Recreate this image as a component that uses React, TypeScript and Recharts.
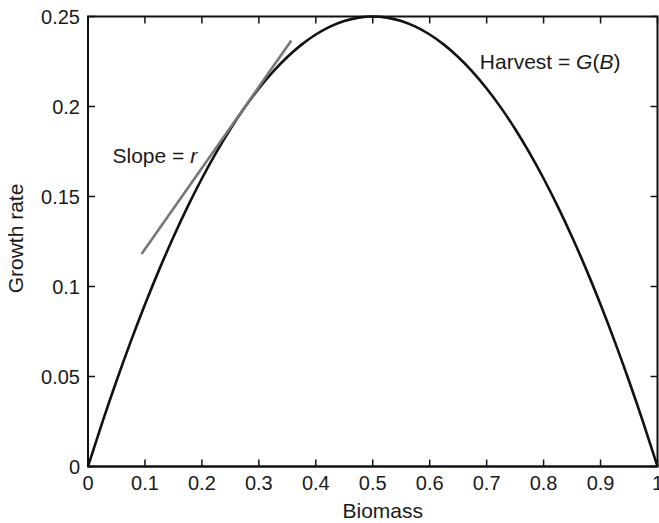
import React from "react";
import { LineChart, Line, XAxis, YAxis, Label, ReferenceDot, ReferenceArea } from "recharts";

// logistic growth curve, biomass vs growth rate
const biomass = [
  0, 0.025, 0.05, 0.075, 0.1, 0.125, 0.15, 0.175, 0.2, 0.225, 0.25, 0.275, 0.3, 0.325, 0.35,
  0.375, 0.4, 0.425, 0.45, 0.475, 0.5, 0.525, 0.55, 0.575, 0.6, 0.625, 0.65, 0.675, 0.7,
  0.725, 0.75, 0.775, 0.8, 0.825, 0.85, 0.875, 0.9, 0.925, 0.95, 0.975, 1,
];
const growthRate = [
  0, 0.024375, 0.0475, 0.069375, 0.09, 0.109375, 0.1275, 0.144375, 0.16, 0.174375, 0.1875,
  0.199375, 0.21, 0.219375, 0.2275, 0.234375, 0.24, 0.244375, 0.2475, 0.249375, 0.25,
  0.249375, 0.2475, 0.244375, 0.24, 0.234375, 0.2275, 0.219375, 0.21, 0.199375, 0.1875,
  0.174375, 0.16, 0.144375, 0.1275, 0.109375, 0.09, 0.069375, 0.0475, 0.024375, 0,
];

// tangent segment ends
const tangentBiomass = [0.094, 0.357];
const tangentRate = [0.118, 0.2366];

const xTicks = [0, 0.1, 0.2, 0.3, 0.4, 0.5, 0.6, 0.7, 0.8, 0.9, 1];
const yTicks = [0, 0.05, 0.1, 0.15, 0.2, 0.25];

const curveData = biomass.map((b, i) => ({ b, g: growthRate[i] }));
const tangentData = tangentBiomass.map((b, i) => ({ b, g: tangentRate[i] }));

const FONT = "'Liberation Sans', Arial, Helvetica, sans-serif";
const INK = "#111";
const TEXT = "#1a1a1a";
const TICK_LEN = 7;

// plot box edges, used for the mirrored inward ticks on top and right
const PLOT_TOP = 16.5;
const PLOT_RIGHT = 657.5;

const BottomTick = (props: any) => {
  const { x, y, payload } = props;
  return (
    <g>
      <line x1={x} x2={x} y1={y} y2={y - TICK_LEN} stroke={INK} strokeWidth={1.5} />
      <line x1={x} x2={x} y1={PLOT_TOP} y2={PLOT_TOP + TICK_LEN} stroke={INK} strokeWidth={1.5} />
      <text x={x} y={y + 23.5} textAnchor="middle" fontSize={20} fontFamily={FONT} fill={TEXT}>
        {String(payload.value)}
      </text>
    </g>
  );
};

const LeftTick = (props: any) => {
  const { x, y, payload } = props;
  return (
    <g>
      <line x1={x} x2={x + TICK_LEN} y1={y} y2={y} stroke={INK} strokeWidth={1.5} />
      <line x1={PLOT_RIGHT} x2={PLOT_RIGHT - TICK_LEN} y1={y} y2={y} stroke={INK} strokeWidth={1.5} />
      <text x={x - 8} y={y + 7} textAnchor="end" fontSize={20} fontFamily={FONT} fill={TEXT}>
        {String(payload.value)}
      </text>
    </g>
  );
};

const YTitle = (props: any) => {
  const { viewBox } = props;
  const cx = viewBox.x + 22.5;
  const cy = viewBox.y + viewBox.height / 2 - 3;
  return (
    <text
      x={cx}
      y={cy}
      transform={`rotate(-90, ${cx}, ${cy})`}
      textAnchor="middle"
      fontSize={21}
      fontFamily={FONT}
      fill={TEXT}
    >
      Growth rate
    </text>
  );
};

const XTitle = (props: any) => {
  const { viewBox } = props;
  return (
    <text
      x={viewBox.x + viewBox.width / 2 + 10}
      y={viewBox.y + viewBox.height - 5}
      textAnchor="middle"
      fontSize={21}
      fontFamily={FONT}
      fill={TEXT}
    >
      Biomass
    </text>
  );
};

const HarvestNote = (props: any) => {
  const { viewBox } = props;
  return (
    <text x={viewBox.x} y={viewBox.y} fontSize={21} fontFamily={FONT} fill={TEXT}>
      Harvest = <tspan fontStyle="italic">G</tspan>(<tspan fontStyle="italic">B</tspan>)
    </text>
  );
};

const SlopeNote = (props: any) => {
  const { viewBox } = props;
  return (
    <text x={viewBox.x} y={viewBox.y} fontSize={21} fontFamily={FONT} fill={TEXT}>
      Slope = <tspan fontStyle="italic">r</tspan>
    </text>
  );
};

export default function App() {
  return (
    <div style={{ position: "absolute", left: 0, top: 0, width: 659, height: 523, overflow: "hidden", background: "#fff" }}>
      <LineChart width={659} height={523} margin={{ top: PLOT_TOP, right: 659 - PLOT_RIGHT, bottom: 0, left: 0 }}>
        <XAxis
          dataKey="b"
          type="number"
          domain={[0, 1]}
          ticks={xTicks}
          height={56.5}
          tickSize={0}
          tickMargin={0}
          tick={<BottomTick />}
          axisLine={{ stroke: INK, strokeWidth: 2 }}
          tickLine={false}
          interval={0}
        >
          <Label content={<XTitle />} />
        </XAxis>
        <YAxis
          type="number"
          domain={[0, 0.25]}
          ticks={yTicks}
          width={88}
          tickSize={0}
          tickMargin={0}
          tick={<LeftTick />}
          axisLine={{ stroke: INK, strokeWidth: 2 }}
          tickLine={false}
          interval={0}
        >
          <Label content={<YTitle />} />
        </YAxis>
        {/* box around the plot area */}
        <ReferenceArea
          x1={0}
          x2={1}
          y1={0}
          y2={0.25}
          ifOverflow="visible"
          fill="none"
          fillOpacity={0}
          stroke={INK}
          strokeOpacity={1}
          strokeWidth={2}
        />
        <Line
          data={curveData}
          dataKey="g"
          type="natural"
          stroke="#111"
          strokeWidth={2.6}
          dot={false}
          activeDot={false}
          isAnimationActive={false}
        />
        <Line
          data={tangentData}
          dataKey="g"
          type="linear"
          stroke="#777"
          strokeWidth={2.6}
          dot={false}
          activeDot={false}
          isAnimationActive={false}
        />
        <ReferenceDot x={0.688} y={0.2208} r={0} fill="none" stroke="none" label={<HarvestNote />} />
        <ReferenceDot x={0.043} y={0.1686} r={0} fill="none" stroke="none" label={<SlopeNote />} />
      </LineChart>
    </div>
  );
}
